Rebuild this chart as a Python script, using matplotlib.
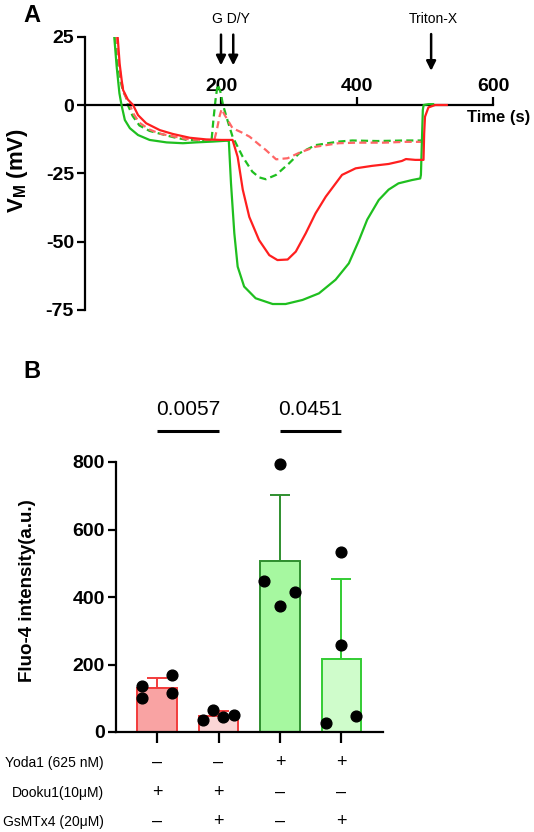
import matplotlib
matplotlib.use("Agg")
import matplotlib.pyplot as plt
from matplotlib.transforms import blended_transform_factory
import numpy as np

plt.rcParams['font.family'] = ['Liberation Sans', 'DejaVu Sans']
plt.rcParams['mathtext.fontset'] = 'custom'
plt.rcParams['mathtext.rm'] = 'Liberation Sans:bold'
plt.rcParams['mathtext.it'] = 'Liberation Sans:bold'
plt.rcParams['mathtext.bf'] = 'Liberation Sans:bold'

# ---------------- Panel A data ----------------
green_solid_t = [43, 46.6, 50.6, 53.7, 58.6, 66, 78, 95, 120, 144, 163, 188, 207, 211.5,
                 214.7, 219.6, 224.5, 234, 251, 276, 295, 320, 344, 368.5, 388, 403, 415,
                 432, 446.5, 461, 480.7, 493, 494, 496.8, 498, 505, 512]
green_solid_v = [25, 14, 4.3, 0, -5.5, -8.5, -11, -12.8, -13.7, -14, -13.7, -13.4, -13.1, -13.1,
                 -28.7, -47, -59.2, -66.5, -70.8, -72.9, -72.9, -71.4, -69, -64, -58, -49.5, -42,
                 -34.8, -31, -28.7, -27.5, -26.9, -25.6, -1.8, 0, 0.3, 0.3]

red_solid_t = [48, 51, 54, 56, 63, 70.7, 78, 90, 110, 129, 154, 178, 200, 217, 224.5, 232,
               241.6, 256, 271, 283, 298, 310, 324.6, 339, 354, 378, 398, 422, 446.5, 466,
               472, 485.6, 497.8, 498.8, 500, 505, 515, 532]
red_solid_v = [25, 15, 9, 5.5, 2, 0, -3.7, -6.7, -9.2, -10.6, -12, -12.6, -12.8, -12.8, -19, -31,
               -41, -49.5, -55, -56.8, -56.6, -53.7, -47, -39.7, -33.6, -25.6, -23.2, -22.3, -21.6,
               -20.5, -19.8, -20.1, -20.1, -10.4, -4.3, -0.9, 0, 0]

green_dash_t = [45, 48, 52, 56, 60, 63, 70, 80, 95, 110, 130, 150, 170, 186, 189, 192, 195, 199,
                203, 210, 217, 232, 246, 256, 266, 281, 300, 315, 339, 373, 393, 430, 470, 495]
green_dash_v = [25, 16, 9, 5, 3, 0, -4, -7.5, -9.5, -10.5, -11.8, -12.8, -13, -13.2, -5, 2, 7.5, 5,
                0, -6, -11.6, -19, -24.4, -26.5, -27.2, -25.6, -21.4, -17.7, -14.7, -13.4, -13,
                -13.2, -13, -13]

red_dash_t = [46, 50, 54, 58, 62, 66, 72, 80, 95, 110, 130, 150, 170, 190, 194, 198, 201, 205,
              217, 230, 242, 256, 266, 281, 298, 315, 339, 373, 400, 440, 470, 495]
red_dash_v = [25, 15, 8, 4, 2, 0, -3.5, -6.5, -9, -10.5, -11.5, -12.5, -12.8, -13, -9, -4, -1.5,
              -3.5, -8.5, -10, -11.6, -14.5, -16.5, -19.9, -19.5, -17.5, -15.3, -14, -13.8, -13.8,
              -13.5, -13.5]

a_xticks = [200, 400, 600]
a_yticks = [-75, -50, -25, 0, 25]

# ---------------- Panel B data ----------------
conditions = ['c1', 'c2', 'c3', 'c4']
means = [130, 48, 508, 216]
sds = [30, 15, 194, 237]
points = [[137, 102, 169, 116],
          [35, 65, 44, 50],
          [795, 446, 374, 416],
          [534, 259, 26, 47]]
jitter = [[-0.245, -0.245, 0.245, 0.245],
          [-0.25, -0.09, 0.08, 0.26],
          [0.0, -0.255, 0.0, 0.24],
          [0.0, 0.0, -0.245, 0.245]]
pvals = ['0.0057', '0.0451']
pairs = [(0, 1), (2, 3)]
row_labels = ['Yoda1 (625 nM)', 'Dooku1(10\u03bcM)', 'GsMTx4 (20\u03bcM)']
row_signs = [['\u2013', '\u2013', '+', '+'],
             ['+', '+', '\u2013', '\u2013'],
             ['\u2013', '+', '\u2013', '+']]
b_yticks = [0, 200, 400, 600, 800]

fill_colors = ['#f9a3a3', '#fbd6d6', '#a6f8a0', '#cffccb']
edge_colors = ['#f23c3c', '#f23c3c', '#2f8f2f', '#33cc33']

W, H = 534, 832
fig = plt.figure(figsize=(W / 100, H / 100), dpi=100)

def fx(px):
    return px / W

def fy(py):
    return 1 - py / H

# ---------------- Panel A ----------------
axA = fig.add_axes([fx(85), fy(309.75), fx(493 - 85), (309.75 - 36.75) / H])
green = '#1fbf1f'
red = '#ff1f1f'
red_l = '#ff6666'
dash = (0, (3.2, 1.9))
lw = 1.6
axA.plot(green_dash_t, green_dash_v, color=green, lw=lw, ls=dash, zorder=2)
axA.plot(red_dash_t, red_dash_v, color=red_l, lw=lw, ls=dash, zorder=2)
axA.plot(green_solid_t, green_solid_v, color=green, lw=lw, zorder=3)
axA.plot(red_solid_t, red_solid_v, color=red, lw=lw, zorder=4)
axA.set_xlim(0, 600)
axA.set_ylim(-75, 25)
for s in ['right', 'bottom']:
    axA.spines[s].set_visible(False)
axA.spines['top'].set_position(('data', 0))
axA.spines['top'].set_linewidth(1.6)
axA.spines['left'].set_linewidth(1.6)
axA.xaxis.set_ticks_position('top')
axA.set_xticks(a_xticks)
axA.set_xticklabels([str(v) for v in a_xticks], fontsize=14, fontweight='bold')
axA.set_yticks(a_yticks)
axA.set_yticklabels([str(v) for v in a_yticks], fontsize=14, fontweight='bold')
axA.tick_params(axis='x', direction='out', length=6, width=1.6, pad=1)
axA.tick_params(axis='y', direction='out', length=6, width=1.6, pad=2)
axA.set_ylabel(r'$\mathrm{V_M}$ (mV)', fontsize=16, fontweight='bold')
axA.yaxis.label.set_va('center')
axA.yaxis.set_label_coords((17 - 85) / 408, (309.75 - 170) / 273)
axA.text(609, -1.8, 'Time (s)', fontsize=12, fontweight='bold', ha='center', va='top',
         clip_on=False)
# arrows
for t in [200, 218]:
    axA.annotate('', xy=(t, 13.5), xytext=(t, 26.8),
                 arrowprops=dict(arrowstyle='-|>', color='black', lw=1.8, mutation_scale=14),
                 annotation_clip=False)
axA.annotate('', xy=(509, 11.5), xytext=(509, 27),
             arrowprops=dict(arrowstyle='-|>', color='black', lw=1.8, mutation_scale=14),
             annotation_clip=False)
axA.text(215, 31.5, 'G D/Y', fontsize=10, ha='center', va='center', clip_on=False)
axA.text(512, 31.5, 'Triton-X', fontsize=10, ha='center', va='center', clip_on=False)
fig.text(fx(32), fy(16), 'A', fontsize=17, fontweight='bold', ha='center', va='center')

# ---------------- Panel B ----------------
axB = fig.add_axes([fx(116), fy(732), fx(383 - 116), (732 - 462) / H])
x = np.arange(len(conditions))
for i in range(len(conditions)):
    axB.bar(x[i], means[i], width=0.64, color=fill_colors[i], edgecolor=edge_colors[i],
            linewidth=1.4, zorder=2)
    axB.errorbar(x[i], means[i], yerr=[[0], [sds[i]]], color=edge_colors[i], lw=1.4,
                 capsize=7, capthick=1.4, zorder=1)
    axB.scatter(x[i] + np.array(jitter[i]), points[i], s=60, color='black', zorder=4,
                clip_on=False)
axB.set_xlim(-0.67, 3.68)
axB.set_ylim(0, 800)
for s in ['right', 'top']:
    axB.spines[s].set_visible(False)
axB.spines['left'].set_linewidth(1.6)
axB.spines['bottom'].set_linewidth(1.6)
axB.set_xticks(x)
axB.set_xticklabels([])
axB.tick_params(axis='x', direction='out', length=8, width=1.6)
axB.set_yticks(b_yticks)
axB.set_yticklabels([str(v) for v in b_yticks], fontsize=14, fontweight='bold')
axB.tick_params(axis='y', direction='out', length=6, width=1.6, pad=2)
axB.set_ylabel('Fluo-4 intensity(a.u.)', fontsize=13.5, fontweight='bold')
axB.yaxis.label.set_va('center')
axB.yaxis.set_label_coords((27.5 - 116) / 267, (732 - 591) / 270)
for (a, b), p in zip(pairs, pvals):
    axB.plot([x[a], x[b]], [892, 892], color='black', lw=2.2, clip_on=False, solid_capstyle='butt')
    axB.text((x[a] + x[b]) / 2, 955, p, fontsize=15, ha='center', va='center', clip_on=False)

tr = blended_transform_factory(axB.transData, fig.transFigure)
row_y = [762.7, 792.7, 821.7]
for r, (lab, signs) in enumerate(zip(row_labels, row_signs)):
    fig.text(fx(104), fy(row_y[r]), lab, fontsize=10, ha='right', va='center')
    for i, sg in enumerate(signs):
        fig.text(x[i], fy(row_y[r]), sg, transform=tr, fontsize=13, ha='center', va='center')
fig.text(fx(31.5), fy(372), 'B', fontsize=17, fontweight='bold', ha='center', va='center')

fig.savefig('out.png', dpi=100)
